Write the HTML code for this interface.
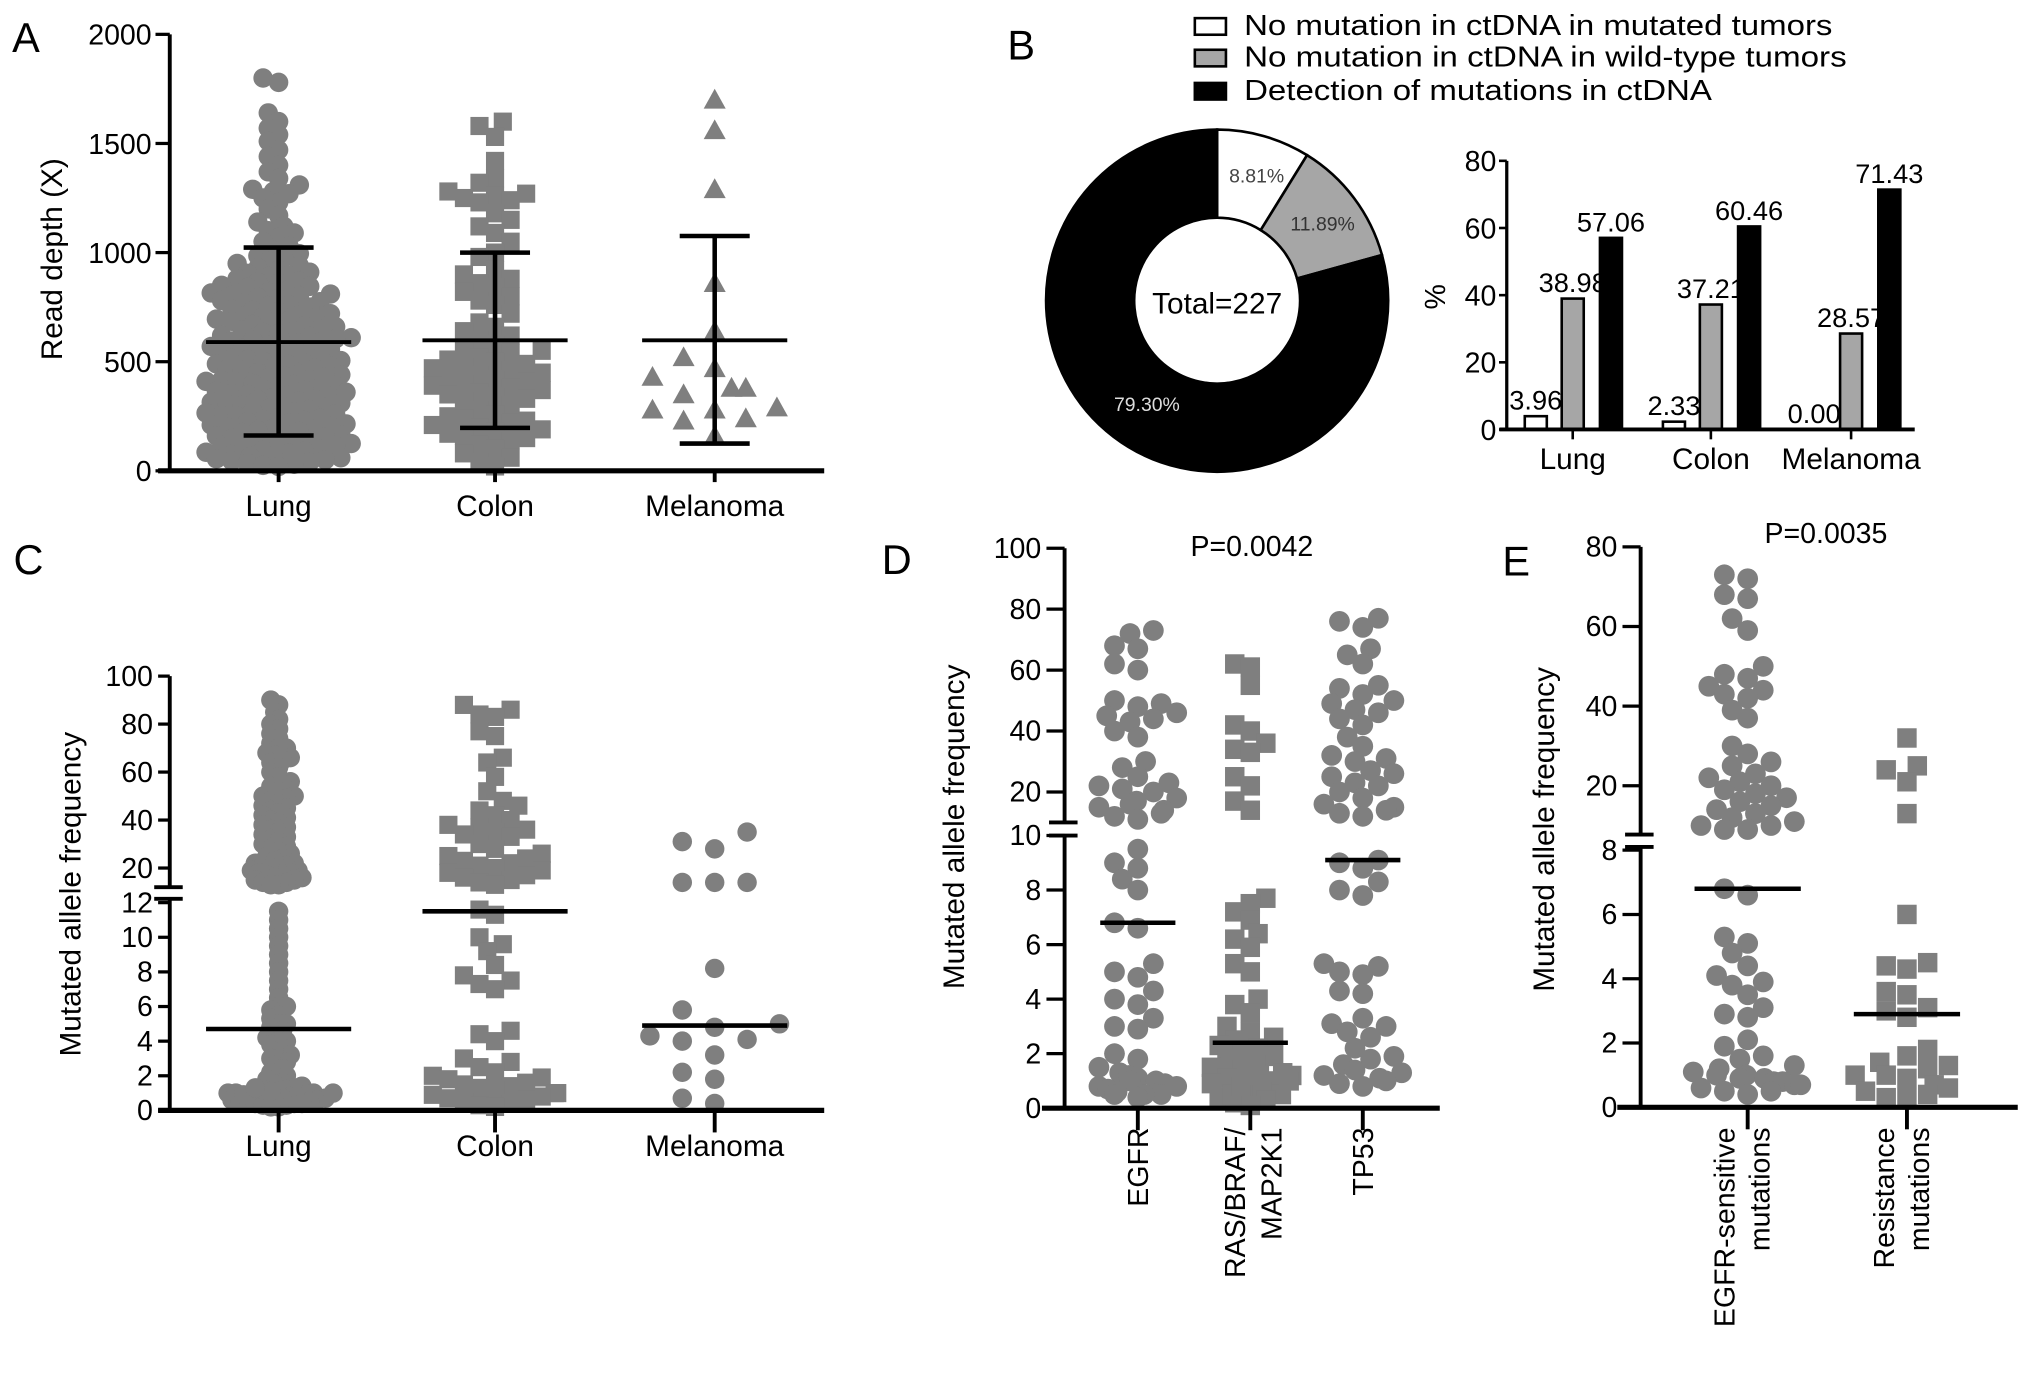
<!DOCTYPE html>
<html><head><meta charset="utf-8"><title>ctDNA figure</title>
<style>
html,body{margin:0;padding:0;background:#fff;}
svg{display:block;font-family:"Liberation Sans",Arial,sans-serif;}
</style></head>
<body>
<svg id="fig" xmlns="http://www.w3.org/2000/svg" width="2032" height="1381" viewBox="0 0 1568 1065.6" preserveAspectRatio="none">
<rect x="0" y="0" width="1568" height="1066" fill="#fff"/>
<g id="panelA"></g>
<g id="panelB"></g>
<g id="panelC"></g>
<g id="panelD"></g>
<g id="panelE"></g>
</svg>
<script>
// ---------- DATA ----------
// Panel A read depth
const aCategories = ['Lung','Colon','Melanoma'];
const aLung = [1800,1780,1640,1600,1570,1540,1510,1470,1440,1400,1370,1340,1310,1290,1280,1270,1250,1230,1200,1170,1140,1120,1100,1090,1070,1050,1030,1010,
995,985,975,960,950,940,930,920,910,905,895,890,880,870,865,860,850,845,840,830,820,815,810,805,800,
795,790,780,775,770,760,755,750,740,735,730,720,715,710,705,700,695,690,685,680,670,665,660,650,645,640,635,630,620,615,610,605,600,
595,590,585,580,575,570,560,555,550,545,540,535,530,520,515,510,505,500,495,490,485,480,475,470,465,460,450,445,440,435,430,425,420,415,410,405,400,
395,390,385,380,375,370,365,360,355,350,345,340,335,330,325,320,315,310,305,300,295,290,285,280,275,270,265,260,255,250,245,240,235,230,225,220,215,210,205,200,
195,190,185,180,175,170,165,160,155,150,145,140,135,130,125,120,115,110,105,100,95,90,85,80,75,70,65,60,55,50,45,40,35,30,25,20];
const aColon = [1600,1580,1530,1420,1340,1320,1280,1270,1260,1250,1240,1230,1180,1150,1120,1090,1050,1000,980,920,900,880,860,840,820,800,780,760,720,680,660,640,620,600,580,560,550,540,520,510,500,490,480,470,460,450,440,430,420,410,400,390,380,370,360,350,340,330,320,300,280,260,250,240,230,220,210,200,190,180,170,160,150,140,120,100,80,60,40,20];
const aMelanoma = [1700,1560,1290,860,640,520,470,430,380,380,350,290,280,280,240,230,160];
const aMean = [590,598,598];
const aSdHigh = [1023,1000,1076];
const aSdLow = [162,197,125];
const aTicks = [0,500,1000,1500,2000];

// Panel B
const bSlices = [8.81,11.89,79.30];
const bSliceLabels = ['8.81%','11.89%','79.30%'];
const bCategories = ['Lung','Colon','Melanoma'];
const bMutTumor = [3.96,2.33,0.00];
const bWildTumor = [38.98,37.21,28.57];
const bDetected = [57.06,60.46,71.43];
const bTicks = [0,20,40,60,80];
const bLegend = ['No mutation in ctDNA in mutated tumors','No mutation in ctDNA in wild-type tumors','Detection of mutations in ctDNA'];

// Panel C allele frequency
const cCategories = ['Lung','Colon','Melanoma'];
const cLung = [90,88,85,82,80,78,76,74,72,70,70,68,67,66,65,64,62,60,58,56,55,54,52,50,50,49,48,47,46,45,44,43,42,41,40,39,38,37,36,35,34,33,32,31,30,29,28,27,26,25,24,23,22,22,21,21,20,20,19,19,18,18,17,17,16,16,15,15,14,14,13,13,
11.5,11,10.5,10,9.5,9,8.5,8,7.5,7,6.5,6,6,5.8,5.5,5.3,5,5,4.8,4.6,4.4,4.2,4,4,3.8,3.6,3.4,3.2,3,3,2.8,2.6,2.4,2.2,2,2,1.8,1.6,1.5,1.4,1.3,1.2,1.1,1.0,1,1,0.9,0.9,0.8,0.8,0.8,0.7,0.7,0.7,0.6,0.6,0.6,0.5,0.5,0.5,0.4,0.4,0.4,0.3,0.3,0.2,0.2,1.2,1.1,0.9,1.3,1.0];
const cColon = [88,86,84,83,77,75,66,64,58,52,48,46,44,42,40,38,37,36,35,34,33,30,28,26,25,24,23,22,21,20,19,18,17,16,15,14,13,
11.6,11.3,10,9.6,9.2,8.4,7.8,7.5,7.3,7,4.6,4.4,4,3,2.8,2.5,2.2,2,1.9,1.8,1.6,1.5,1.4,1.3,1.2,1.0,1,0.9,0.8,0.7,0.6,0.5,0.4,0.3,0.2];
const cMelanoma = [35,28,31,14,14,14,8.2,5.8,4.8,5,4.3,4.0,4.1,3.2,1.8,2.2,0.7,0.4];
const cMedian = [4.7,11.5,4.9];
const cTicksHigh = [20,40,60,80,100];
const cTicksLow = [0,2,4,6,8,10,12];

// Panel D
const dCategories = [['EGFR'],['RAS/BRAF/','MAP2K1'],['TP53']];
const dEGFR = [73,72,68,67,62,60,50,49,48,46,45,44,43,40,38,30,28,25,23,22,21,20,18,17,16,15,14,13,12,11,
9.5,9,8.8,8.4,8,6.8,6.6,5.3,5,4.8,4.3,4,3.8,3.3,3,2.9,2,1.8,1.5,1.3,1.2,1.1,1,1,0.9,0.8,0.8,0.7,0.6,0.5,0.5,0.5,0.4];
const dRAS = [62,61,55,42,40,36,34,33,25,22,17,14,
7.7,7.5,7.2,6.9,6.4,6.2,5.9,5.3,5,4,3.8,3.5,3,2.8,2.6,2.5,2.3,2.2,2,1.9,1.8,1.6,1.5,1.4,1.3,1.2,1.1,1,0.9,0.8,0.7,0.6,0.5,0.4,0.3,0.2,0.1,0.5,0.8,1.0,1.2];
const dTP53 = [77,76,74,67,65,62,55,54,52,50,49,47,46,44,42,38,35,32,31,30,27,26,25,23,22,20,18,16,15,14,13,12,
9.1,9,8.8,8.3,8,7.8,5.3,5.2,5,4.9,4.3,4.2,3.3,3.1,3,2.8,2.6,2.2,1.9,1.8,1.6,1.4,1.3,1.2,1.1,1.0,0.9,0.8];
const dMedian = [6.8,2.4,9.1];
const dTicksHigh = [20,40,60,80,100];
const dTicksLow = [0,2,4,6,8,10];

// Panel E
const eCategories = [['EGFR-sensitive','mutations'],['Resistance','mutations']];
const eSensitive = [73,72,68,67,62,59,50,48,47,45,44,43,42,39,37,30,28,26,25,23,22,21,20,19,18,17,16,15,14,13,12,11,10,10,9,9,
6.8,6.6,5.3,5.1,4.8,4.4,4.1,3.9,3.8,3.5,3.1,2.9,2.8,2.1,1.9,1.6,1.5,1.3,1.2,1.1,1,1,0.9,0.9,0.8,0.8,0.7,0.7,0.6,0.5,0.5,0.4];
const eResistance = [32,25,24,21,13,6,4.5,4.4,4.3,3.6,3.5,3.1,3.0,2.8,1.8,1.6,1.4,1.3,1.2,1.0,1.0,0.9,0.7,0.6,0.5,0.4,0.3,0.3];
const eMedian = [6.8,2.9];
const eTicksHigh = [20,40,60,80];
const eTicksLow = [0,2,4,6,8];

// ---------- HELPERS ----------
const NS='http://www.w3.org/2000/svg';
function mk(parent,tag,attrs,text){const e=document.createElementNS(NS,tag);for(const k in attrs)e.setAttribute(k,attrs[k]);if(text!==undefined)e.textContent=text;parent.appendChild(e);return e;}
function lin(d0,d1,r0,r1){return v=>r0+(v-d0)*(r1-r0)/(d1-d0);}
function broken(lowMax,lo,hiMin,hi){return v=> v<=lowMax?lo(v):hi(Math.max(v,hiMin));}
const GRAY='#7f7f7f';

function swarm(ys,cx,minDist,step,maxOff){
  const idx=ys.map((y,i)=>i).sort((a,b)=>ys[b]-ys[a]);
  const placed=[];const xs=new Array(ys.length);
  for(const i of idx){
    const y=ys[i];let chosen=null;
    for(let k=0;k<200;k++){
      const off=(k%2===0?1:-1)*Math.ceil(k/2)*step;
      if(Math.abs(off)>maxOff){continue;}
      let ok=true;
      for(const p of placed){const dy=p[1]-y;if(Math.abs(dy)>=minDist)continue;const dx=p[0]-(cx+off);if(dx*dx+dy*dy<minDist*minDist){ok=false;break;}}
      if(ok){chosen=cx+off;break;}
    }
    if(chosen===null){chosen=cx+((i*7)%(2*maxOff+1))-maxOff;}
    xs[i]=chosen;placed.push([chosen,y]);
  }
  return xs;
}
function drawPoints(g,vals,ys,xs,shape,size,name){
  for(let i=0;i<vals.length;i++){
    const x=xs[i],y=ys[i];let el;
    if(shape==='circle'){el=mk(g,'circle',{cx:x,cy:y,r:size,fill:GRAY});}
    else if(shape==='square'){el=mk(g,'rect',{x:x-size,y:y-size,width:2*size,height:2*size,fill:GRAY});}
    else {el=mk(g,'polygon',{points:`${x},${y-size} ${x-size},${y+size*0.8} ${x+size},${y+size*0.8}`,fill:GRAY});}
    
    
  }
}
function line(g,x1,y1,x2,y2,w,name){const e=mk(g,'line',{x1,y1,x2,y2,stroke:'#000','stroke-width':w});
  
  return e;}
function text(g,x,y,s,size,anchor,name,extra){const e=mk(g,'text',Object.assign({x,y,'font-size':size,'text-anchor':anchor||'middle',fill:'#000'},extra||{}),s);
  
  return e;}

// ---------- PANEL A ----------
(function(){
  const g=document.getElementById('panelA');
  const ax=131, y=lin(0,2000,363.3,26.5), cxs=[215,382,551.5];
  text(g,20,40,'A',32,'middle','panel-label-a');
  const groups=[[aLung,'circle',7.5,9,4,58,'lung'],[aColon,'square',7,12,6,58,'colon'],[aMelanoma,'triangle',8.5,17,24,50,'melanoma']];
  groups.forEach((gr,ci)=>{const ys=gr[0].map(y);const xs=swarm(ys,cxs[ci],gr[3],gr[4],gr[5]);drawPoints(g,gr[0],ys,xs,gr[1],gr[2],'a-'+gr[6]);});
  cxs.forEach((cx,i)=>{
    line(g,cx-56,y(aMean[i]),cx+56,y(aMean[i]),3,'a-mean-'+aCategories[i].toLowerCase());
    line(g,cx,y(aSdLow[i]),cx,y(aSdHigh[i]),3.5,'a-sd-bar');
    line(g,cx-27,y(aSdHigh[i]),cx+27,y(aSdHigh[i]),3.5,'a-sd-cap-high');
    line(g,cx-27,y(aSdLow[i]),cx+27,y(aSdLow[i]),3.5,'a-sd-cap-low');
    line(g,cx,363,cx,372,3,'a-x-tick');
    text(g,cx,398,aCategories[i],23,'middle','a-x-label');
  });
  line(g,ax,26.5,ax,364,3,'a-y-axis');
  line(g,122,363.3,636,363.3,4,'a-x-axis');
  aTicks.forEach(t=>{line(g,ax-11,y(t),ax,y(t),2.5,'a-y-tick');text(g,ax-14,y(t)+8,String(t),22,'end','a-y-tick-label');});
  text(g,48,200,'Read depth (X)',23,'middle','a-y-axis-title',{transform:'rotate(-90 48 200)'});
})();

// ---------- PANEL B ----------
(function(){
  const g=document.getElementById('panelB');
  text(g,788,46,'B',32,'middle','panel-label-b');
  const fills=['#fff','#a6a6a6','#000'];
  const legY=[14,38.4,64];
  const legW=[454,465,361];
  bLegend.forEach((s,i)=>{
    const r=mk(g,'rect',{x:922,y:legY[i],width:24,height:12.8,fill:fills[i],stroke:'#000','stroke-width':2});
    
    
    text(g,960,legY[i]+13,s,22,'start','legend-entry',{textLength:legW[i],lengthAdjust:'spacingAndGlyphs'});
  });
  // donut
  const cx=939.2, cy=232, R=132, r=64;
  const total=bSlices.reduce((a,b)=>a+b,0);
  let ang=0;
  bSlices.forEach((v,i)=>{
    const a0=ang, a1=ang+v/total*2*Math.PI; ang=a1;
    const p=(a,rad)=>[cx+rad*Math.sin(a),cy-rad*Math.cos(a)];
    const [x0,y0]=p(a0,R),[x1,y1]=p(a1,R),[x2,y2]=p(a1,r),[x3,y3]=p(a0,r);
    const large=(a1-a0)>Math.PI?1:0;
    const path=mk(g,'path',{d:`M${x0},${y0} A${R},${R} 0 ${large} 1 ${x1},${y1} L${x2},${y2} A${r},${r} 0 ${large} 0 ${x3},${y3} Z`,fill:fills[i],stroke:'#000','stroke-width':2});
    
    
  });
  const labPos=[[969.7,141],[1020.6,178],[885,317]];
  const labCol=['#444','#333','#ddd'];
  bSliceLabels.forEach((s,i)=>text(g,labPos[i][0],labPos[i][1],s,15,'middle','donut-label',{fill:labCol[i]}));
  text(g,cx,242,'Total=227',23,'middle','donut-total');
  // bars
  const ax=1162.7, y=lin(0,80,331.4,124.1), cxs=[1213.6,1320.2,1428.4], bw=17;
  const series=[[bMutTumor,'#fff','mutated-tumor',-28.5],[bWildTumor,'#a6a6a6','wild-type',0],[bDetected,'#000','detected',29.5]];
  series.forEach(s=>{
    s[0].forEach((v,i)=>{
      const x=cxs[i]+s[3]-bw/2;
      const rect=mk(g,'rect',{x,y:y(v),width:bw,height:Math.max(0,y(0)-y(v)),fill:s[1],stroke:'#000','stroke-width':2});
      
      
      text(g,cxs[i]+s[3],y(v)-5,v.toFixed(2),21,'middle','bar-value-label');
    });
  });
  line(g,ax,124.1,ax,332,2.5,'b-y-axis');
  line(g,1157,331.4,1477.5,331.4,3,'b-x-axis');
  bTicks.forEach(t=>{line(g,ax-6,y(t),ax,y(t),2,'b-y-tick');text(g,ax-8,y(t)+8,String(t),22,'end','b-y-tick-label');});
  cxs.forEach((cx,i)=>{line(g,cx,331,cx,339,2,'b-x-tick');text(g,cx,362,bCategories[i],23,'middle','b-x-label');});
  text(g,1115,229,'%',22,'middle','b-y-axis-title',{transform:'rotate(-90 1115 229)'});
})();

// ---------- broken-axis scatter panel ----------
function brokenPanel(g,opt){
  const {ax,scale,cxs,groups,medians,medHalf,ticksHigh,ticksLow,breakTop,breakBot,top,bottom,xEnd,xStart,tickLen,font,prefix}=opt;
  groups.forEach((gr,ci)=>{const ys=gr[0].map(scale);const xs=swarm(ys,cxs[ci],gr[3],gr[4],gr[5]);drawPoints(g,gr[0],ys,xs,gr[1],gr[2],prefix+'-'+gr[6]);});
  cxs.forEach((cx,i)=>{line(g,cx-medHalf,scale(medians[i]),cx+medHalf,scale(medians[i]),3.5,prefix+'-median-line');
    line(g,cx,bottom,cx,bottom+17,3,prefix+'-x-tick');});
  line(g,ax,top,ax,breakTop,3,prefix+'-y-axis-upper');
  line(g,ax,breakBot,ax,bottom+1,3,prefix+'-y-axis-lower');
  line(g,ax-12,breakTop,ax+10,breakTop,3,prefix+'-axis-break-mark');
  line(g,ax-12,breakBot,ax+10,breakBot,3,prefix+'-axis-break-mark');
  line(g,xStart,bottom,xEnd,bottom,4,prefix+'-x-axis');
  ticksHigh.concat(ticksLow).forEach((t,k)=>{const isHigh=k<ticksHigh.length;const yy=isHigh?opt.hi(t):opt.lo(t);
    line(g,ax-tickLen,yy,ax,yy,2.5,prefix+'-y-tick');text(g,ax-tickLen-4,yy+7.5,String(t),font,'end',prefix+'-y-tick-label');});
}

// ---------- PANEL C ----------
(function(){
  const g=document.getElementById('panelC');
  text(g,22,443,'C',32,'middle','panel-label-c');
  const lo=lin(0,12,856.8,696.5), hi=lin(12,100,684.6,521.7);
  const scale=broken(12,lo,12,hi);
  brokenPanel(g,{ax:131,scale,lo,hi,cxs:[215,382,551.5],
    groups:[[cLung,'circle',7.5,6,3,56,'lung'],[cColon,'square',7,12,6,56,'colon'],[cMelanoma,'circle',7.5,15,25,50,'melanoma']],
    medians:cMedian,medHalf:56,ticksHigh:cTicksHigh,ticksLow:cTicksLow,breakTop:684.6,breakBot:693.5,top:521.7,bottom:856.8,xEnd:636,xStart:122,tickLen:9,font:22,prefix:'c'});
  cCategories.forEach((s,i)=>text(g,[215,382,551.5][i],892,s,23,'middle','c-x-label'));
  text(g,62,690,'Mutated allele frequency',23,'middle','c-y-axis-title',{transform:'rotate(-90 62 690)'});
})();

// ---------- PANEL D ----------
(function(){
  const g=document.getElementById('panelD');
  text(g,692,443,'D',32,'middle','panel-label-d');
  const lo=lin(0,10,855.1,644.7), hi=lin(10,100,634.6,423);
  const scale=broken(10,lo,10,hi);
  const cxs=[878,964.8,1051.6];
  brokenPanel(g,{ax:821.5,scale,lo,hi,cxs,
    groups:[[dEGFR,'circle',8,13,6,32,'egfr'],[dRAS,'square',7.5,12,6,32,'ras'],[dTP53,'circle',8,13,6,34,'tp53']],
    medians:dMedian,medHalf:29,ticksHigh:dTicksHigh,ticksLow:dTicksLow,breakTop:634.6,breakBot:644.7,top:423,bottom:855.1,xEnd:1111,xStart:804,tickLen:14,font:22,prefix:'d'});
  dCategories.forEach((lines,i)=>{
    lines.forEach((s,j)=>{const x=cxs[i]+(lines.length===1?8:(j===0?-4:24));
      text(g,x,870,s,22,'end','d-x-label',{transform:`rotate(-90 ${x} 870)`});});
  });
  text(g,966,429,'P=0.0042',22,'middle','d-p-value');
  text(g,744,638,'Mutated allele frequency',23,'middle','d-y-axis-title',{transform:'rotate(-90 744 638)'});
})();

// ---------- PANEL E ----------
(function(){
  const g=document.getElementById('panelE');
  text(g,1170,444,'E',32,'middle','panel-label-e');
  const lo=lin(0,8,854.4,656), hi=lin(20,80,606.3,422);
  const scale=broken(8,lo,7.7,hi);
  const cxs=[1348.6,1471.5];
  brokenPanel(g,{ax:1266,scale,lo,hi,cxs,
    groups:[[eSensitive,'circle',8,13,6,44,'egfr-sensitive'],[eResistance,'square',7.5,13,8,44,'resistance']],
    medians:eMedian,medHalf:41,ticksHigh:eTicksHigh,ticksLow:eTicksLow,breakTop:644,breakBot:653.5,top:422,bottom:854.4,xEnd:1557,xStart:1248,tickLen:14,font:22,prefix:'e'});
  eCategories.forEach((lines,i)=>{
    lines.forEach((s,j)=>{const x=cxs[i]+(j===0?-10:17);
      text(g,x,870,s,22,'end','e-x-label',{transform:`rotate(-90 ${x} 870)`});});
  });
  text(g,1409,419,'P=0.0035',22,'middle','e-p-value');
  text(g,1199,640,'Mutated allele frequency',23,'middle','e-y-axis-title',{transform:'rotate(-90 1199 640)'});
})();
</script>
</body></html>
